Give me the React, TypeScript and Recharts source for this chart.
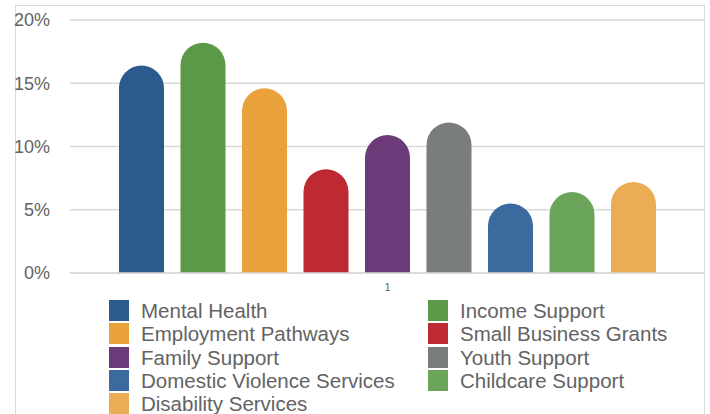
import { BarChart, Bar, XAxis, YAxis, CartesianGrid } from 'recharts';

const categories = ['1'];
const seriesNames = [
  'Mental Health',
  'Income Support',
  'Employment Pathways',
  'Small Business Grants',
  'Family Support',
  'Youth Support',
  'Domestic Violence Services',
  'Childcare Support',
  'Disability Services',
];
const seriesValues = [16.4, 18.2, 14.6, 8.2, 10.9, 11.9, 5.5, 6.4, 7.2];
const seriesColors = [
  '#2B5A8C',
  '#5B9848',
  '#E9A23B',
  '#BE2A31',
  '#6E3B7A',
  '#7A7D7E',
  '#3A6A9E',
  '#6AA55A',
  '#EAAD55',
];
const yTicks = [0, 5, 10, 15, 20];

const FONT = '"Liberation Sans", Arial, sans-serif';
const TEXT = '#636363';

const data = categories.map((c) => {
  const row: Record<string, string | number> = { name: c };
  seriesNames.forEach((s, i) => {
    row[s] = seriesValues[i];
  });
  return row;
});

export default function App() {
  return (
    <div style={{ position: 'absolute', left: 0, top: 0, width: 710, height: 414, overflow: 'hidden', background: '#fff', fontFamily: FONT }}>
      {/* outer frame of the chart area */}
      <div
        style={{
          position: 'absolute',
          left: 15,
          top: 5,
          width: 690,
          height: 500,
          border: '1px solid #d9d9d9',
          boxSizing: 'border-box',
        }}
      />
      <div style={{ position: 'absolute', left: 0, top: 0 }}>
        <BarChart
          width={710}
          height={500}
          data={data}
          margin={{ top: 20, right: 5, left: 15, bottom: 0 }}
          barGap={16.5}
          barSize={45}
        >
          <CartesianGrid vertical={false} stroke="#d9d9d9" strokeWidth={1.5} />
          <XAxis
            dataKey="name"
            height={227}
            axisLine={{ stroke: '#d9d9d9', strokeWidth: 1.5 }}
            tickLine={false}
            tickSize={0}
            tickMargin={10}
            tick={{ fontSize: 11, fill: TEXT, fontFamily: FONT }}
          />
          <YAxis
            width={55}
            domain={[0, 20]}
            ticks={yTicks}
            axisLine={false}
            tickLine={false}
            tickSize={0}
            tickMargin={20}
            tickFormatter={(v) => `${v}%`}
            tick={{ fontSize: 18, fill: TEXT, fontFamily: FONT }}
          />
          {seriesNames.map((s, i) => (
            <Bar
              key={s}
              dataKey={s}
              fill={seriesColors[i]}
              radius={[23, 23, 0, 0]}
              isAnimationActive={false}
            />
          ))}
        </BarChart>
      </div>
      {/* legend: two columns, row-major in series order */}
      <div
        style={{
          position: 'absolute',
          left: 109,
          top: 300,
          display: 'grid',
          gridTemplateColumns: '319px 260px',
          rowGap: 2.3,
        }}
      >
        {seriesNames.map((s, i) => (
          <div key={s} style={{ display: 'flex', alignItems: 'center', height: 21 }}>
            <span style={{ width: 20, height: 21, background: seriesColors[i], display: 'inline-block' }} />
            <span style={{ marginLeft: 12, fontSize: 20.5, color: TEXT, whiteSpace: 'nowrap', lineHeight: '21px' }}>{s}</span>
          </div>
        ))}
      </div>
    </div>
  );
}
